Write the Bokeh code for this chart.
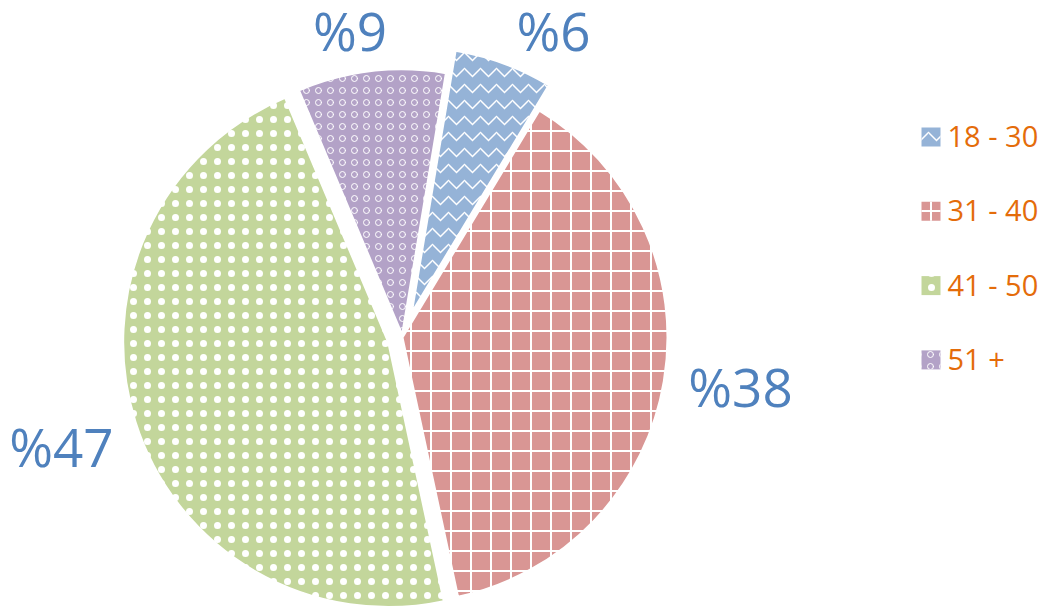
import math
from bokeh.plotting import figure
from bokeh.models import Range1d
from bokeh.core.properties import value
from bokeh.embed import file_html
from bokeh.resources import INLINE

# ---- data ----
categories = ["18 - 30", "31 - 40", "41 - 50", "51 +"]
percents = [6, 38, 47, 9]
label_texts = ["%6", "%38", "%47", "%9"]

# ---- styles / layout ----
colors = ["#95B3D7", "#D99694", "#C3D69B", "#B3A2C7"]
hatches = ["v", "+", ".", "o"]
hatch_scales = [16, 20, 14, 12]
hatch_weights = [1.5, 2, 0.5, 1]
explode = [27, 0, 15, 3]
label_dist = [342, 341.5, 358, 311]
label_shift = [5.9, -1.3, -0.2, -3.0]

W, H = 1053, 610
p = figure(width=W, height=H, x_range=Range1d(0, W), y_range=Range1d(0, H),
           output_backend="svg", toolbar_location=None, min_border=0)
p.axis.visible = False
p.grid.visible = False
p.outline_line_color = None
p.background_fill_color = "white"
p.border_fill_color = "white"

cx, cy = 402, H - 337
R = 265
first = 9.5  # degrees clockwise from 12 o'clock

total = sum(percents)
theta = first
lx, ly = [], []
for i, v in enumerate(percents):
    span = 360.0 * v / total
    t0, t1 = theta, theta + span
    mid = (t0 + t1) / 2
    mr = math.radians(mid)
    ox = cx + explode[i] * math.sin(mr)
    oy = cy + explode[i] * math.cos(mr)
    p.wedge(x=ox, y=oy, radius=R,
            start_angle=math.radians(90 - t1), end_angle=math.radians(90 - t0),
            fill_color=colors[i], line_color="white", line_width=2,
            hatch_pattern=hatches[i], hatch_color="white",
            hatch_scale=hatch_scales[i], hatch_weight=hatch_weights[i])
    la = math.radians(mid + label_shift[i])
    lx.append(cx + label_dist[i] * math.sin(la))
    ly.append(cy + label_dist[i] * math.cos(la))
    theta = t1

p.text(x=lx, y=ly, text=label_texts, text_font=value("Open Sans"),
       text_font_size="53px", text_color="#4F81BD",
       text_align="center", text_baseline="middle")

# ---- legend ----
leg_x = 930.5
leg_top = H - 136.5
pitch = 74.3
for i, c in enumerate(categories):
    yy = leg_top - i * pitch
    p.rect(x=leg_x, y=yy, width=19, height=19, fill_color=colors[i],
           line_color=None, hatch_pattern=hatches[i], hatch_color="white",
           hatch_scale=hatch_scales[i], hatch_weight=hatch_weights[i])
    p.text(x=[947], y=[yy + 1.5], text=[c], text_font=value("Open Sans"),
           text_font_size="29px", text_color="#E46C0A",
           text_align="left", text_baseline="middle")

open("out.html", "w").write(file_html(p, INLINE))
